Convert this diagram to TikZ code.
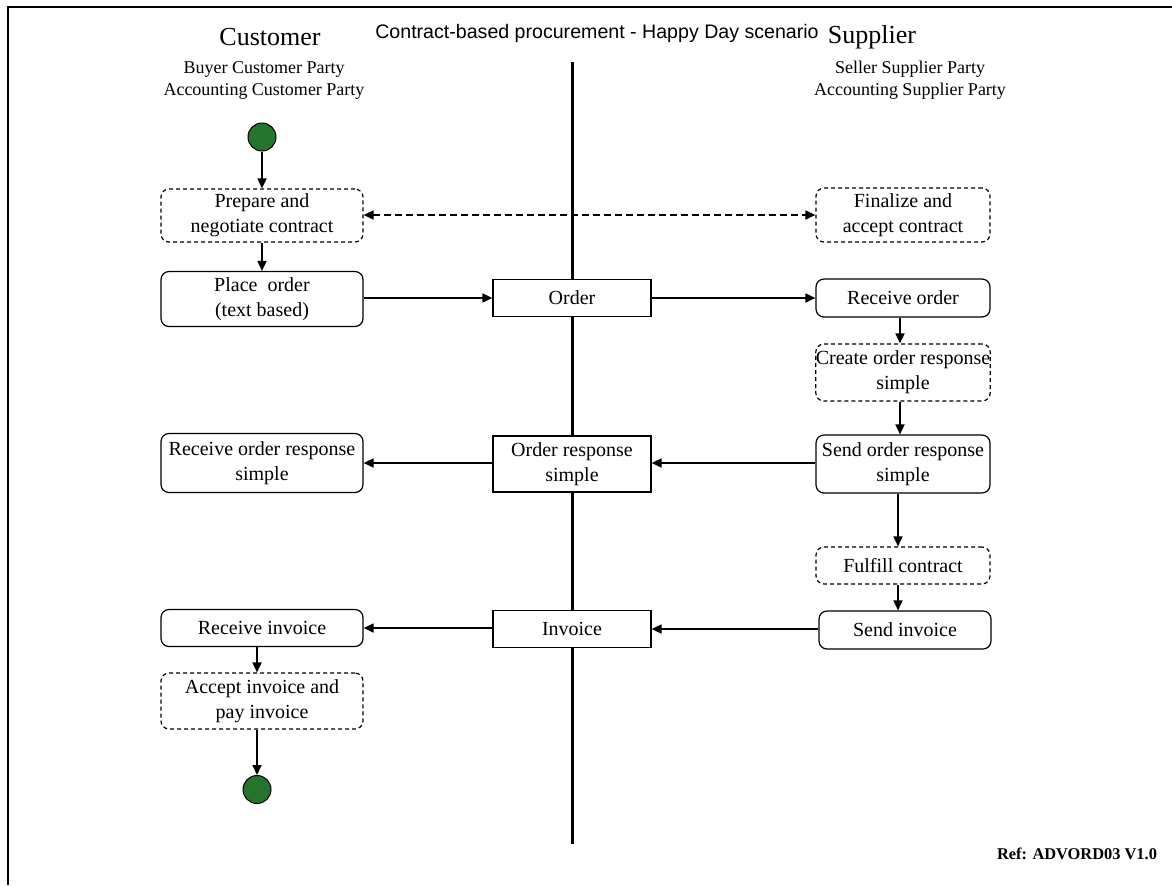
\documentclass[tikz,border=0pt]{standalone}
\usepackage{fontspec}
\setmainfont{Liberation Serif}
\newfontfamily\titlefont{Liberation Sans}
\usetikzlibrary{arrows.meta,calc}
\definecolor{stategreen}{RGB}{38,115,45}
\begin{document}
\begin{tikzpicture}[x=0.5pt,y=-0.5pt,
  every node/.style={font=\fontsize{10}{12.5}\selectfont, align=center, inner sep=0pt},
  act/.style={draw, fill=white, line width=0.6pt, rounded corners=4pt},
  dact/.style={act, dash pattern=on 2pt off 1.5pt},
  msg/.style={draw, fill=white, line width=0.6pt},
  lcol/.style={minimum width=101pt},
  rcol/.style={minimum width=87pt},
  ccol/.style={minimum width=79pt},
  role/.style={font=\fontsize{9}{11}\selectfont},
  state/.style={circle, draw, line width=0.5pt, fill=stategreen, minimum size=14pt},
  arr/.style={line width=0.85pt, -{Triangle[length=5pt,width=4.5pt]}},
  darr/.style={line width=0.85pt, dash pattern=on 3.5pt off 2pt, {Triangle[length=5pt,width=4.5pt]}-{Triangle[length=5pt,width=4.5pt]}},
  frame/.style={line width=1pt},
  lane/.style={line width=1.5pt}
]
\useasboundingbox (0,0) rectangle (1172,885);
% frame (top and left edges)
\coordinate (ftr) at (1172,6.5);
\coordinate (ftl) at (8,6.5);
\coordinate (fbl) at (8,885);
\draw[frame] (ftr) -- (ftl) -- (fbl);
% swimlane divider
\coordinate (lanetop) at (572,62);
\coordinate (lanebot) at (572,844);
\draw[lane] (lanetop) -- (lanebot);

% headings
\node[font=\fontsize{9.8}{12}\selectfont] (title) at (597,33) {\titlefont Contract-based procurement - Happy Day scenario};
\node[font=\fontsize{13}{15}\selectfont] (cust) at (270,37) {Customer};
\node[role] (custroles) at (264,80.5) {Buyer Customer Party\\Accounting Customer Party};
\node[font=\fontsize{13}{15}\selectfont] (supp) at (872,37) {Supplier};
\node[role] (supproles) at (910,80.5) {Seller Supplier Party\\Accounting Supplier Party};
\node[font=\fontsize{8.2}{10}\selectfont\bfseries] (ref) at (1077,854) {Ref: ADVORD03 V1.0};

% customer lane
\node[state] (start) at (262,137) {};
\node[dact, lcol, minimum height=26.5pt] (prep) at (262,215.5) {Prepare and\\negotiate contract};
\node[act, lcol, minimum height=27.5pt] (place) at (262,299) {Place\ \ order\\(text based)};
\node[act, lcol, minimum height=29.5pt] (recresp) at (262,463) {Receive order response\\simple};
\node[act, lcol, minimum height=18.5pt] (recinv) at (262,628) {Receive invoice};
\node[dact, lcol, minimum height=28pt] (accept) at (262,701) {Accept invoice and\\pay invoice};
\node[state] (endc) at (257,789.5) {};

% messages
\node[msg, ccol, minimum height=18.5pt] (order) at (572,298) {Order};
\node[msg, ccol, minimum height=28pt] (ordresp) at (572,464) {Order response\\simple};
\node[msg, ccol, minimum height=18.5pt] (invoice) at (572,629) {Invoice};

% supplier lane
\node[dact, rcol, minimum height=27pt] (final) at (903,215) {Finalize and\\accept contract};
\node[act, rcol, minimum height=19pt] (recorder) at (903,298) {Receive order};
\node[dact, rcol, minimum height=28.5pt] (create) at (903,372.5) {Create order response\\simple};
\node[act, rcol, minimum height=29pt] (sendresp) at (903,464) {Send order response\\simple};
\node[dact, rcol, minimum height=18.5pt] (fulfill) at (903,565.5) {Fulfill contract};
\node[act, minimum width=86pt, minimum height=19pt] (sendinv) at (905,630) {Send invoice};

% flows
\draw[arr] (start) -- (prep);
\draw[arr] (prep) -- (place);
\draw[darr] (prep.east |- final.west) -- (final.west);
\draw[arr] (place.east |- order.west) -- (order.west);
\draw[arr] (order) -- (recorder);
\draw[arr] (recorder.south -| 900,0) -- (create.north -| 900,0);
\draw[arr] (create.south -| 900,0) -- (sendresp.north -| 900,0);
\draw[arr] (sendresp.west |- 0,463) -- (ordresp.east |- 0,463);
\draw[arr] (ordresp.west |- 0,463) -- (recresp.east |- 0,463);
\draw[arr] (sendresp.south -| 898,0) -- (fulfill.north -| 898,0);
\draw[arr] (fulfill.south -| 898,0) -- (sendinv.north -| 898,0);
\draw[arr] (sendinv.west |- 0,629) -- (invoice.east |- 0,629);
\draw[arr] (invoice.west |- 0,628) -- (recinv.east |- 0,628);
\draw[arr] (recinv.south -| endc) -- (accept.north -| endc);
\draw[arr] (accept.south -| endc) -- (endc);
\end{tikzpicture}
\end{document}
